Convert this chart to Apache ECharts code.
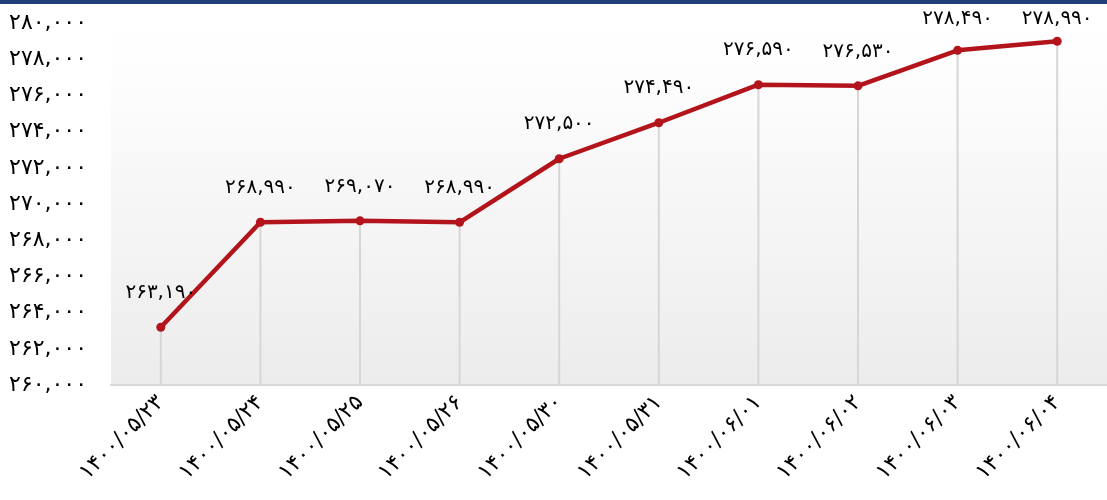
<!DOCTYPE html>
<html>

<head>
    <meta charset="utf-8">
    <script src="https://cdn.jsdelivr.net/npm/echarts@6/dist/echarts.min.js"></script>
    <style>
        html, body, div {
            width: 100%;
            height: 100%;
            margin: 0px;
            background: #fff;
        }
    </style>
</head>

<body>
    <div id="chart"></div>
    <script>
        // dates and prices
        var dates = ['1400/05/23', '1400/05/24', '1400/05/25', '1400/05/26', '1400/05/30',
            '1400/05/31', '1400/06/01', '1400/06/02', '1400/06/03', '1400/06/04'];
        var prices = [263190, 268990, 269070, 268990, 272500, 274490, 276590, 276530, 278490, 278990];
        var yMin = 260000, yMax = 280000, yStep = 2000;

        function toFa(s) {
            return String(s).replace(/[0-9]/g, function (d) {
                return String.fromCharCode(0x06F0 + Number(d));
            });
        }
        function fmt(v) {
            return toFa(Number(v).toLocaleString('en-US'));
        }

        var font = '"DejaVu Sans", sans-serif';
        var myChart = echarts.init(document.getElementById('chart'));
        var option = {
            animation: false,
            graphic: [{
                type: 'rect',
                shape: { x: 0, y: 0, width: 1107, height: 4 },
                style: { fill: '#1f3e78' }
            }],
            grid: {
                left: 111,
                top: 23,
                width: 1000,
                bottom: 115,
                show: true,
                borderWidth: 0,
                backgroundColor: {
                    type: 'linear', x: 0, y: 0, x2: 0, y2: 1,
                    colorStops: [
                        { offset: 0, color: '#ffffff' },
                        { offset: 0.15, color: '#fdfdfd' },
                        { offset: 1, color: '#ececec' }
                    ]
                }
            },
            xAxis: {
                type: 'category',
                data: dates,
                axisLine: { lineStyle: { color: '#d9d9d9', width: 2 } },
                axisTick: { show: false },
                axisLabel: {
                    rotate: 45,
                    margin: 14,
                    color: '#000',
                    fontSize: 22,
                    fontFamily: font,
                    formatter: toFa
                }
            },
            yAxis: {
                type: 'value',
                min: yMin,
                max: yMax,
                interval: yStep,
                splitLine: { show: false },
                axisLine: { show: false },
                axisTick: { show: false },
                axisLabel: {
                    margin: 24,
                    color: '#000',
                    fontSize: 22,
                    fontFamily: font,
                    formatter: fmt
                }
            },
            series: [{
                type: 'bar',
                data: prices,
                barWidth: 2,
                silent: true,
                itemStyle: { color: '#d6d6d6' },
                z: 1
            }, {
                type: 'line',
                data: prices,
                symbol: 'circle',
                symbolSize: 9,
                lineStyle: { color: '#b3141c', width: 4.5 },
                itemStyle: { color: '#b3141c' },
                label: {
                    show: true,
                    position: 'top',
                    distance: 20,
                    color: '#000',
                    fontSize: 20,
                    fontFamily: font,
                    formatter: function (p) { return fmt(p.value); }
                },
                labelLayout: function (p) {
                    var r = p.labelRect;
                    return {
                        x: r.x + r.width / 2,
                        y: Math.max(r.y, 9),
                        align: 'center',
                        verticalAlign: 'top'
                    };
                },
                z: 3
            }]
        };
        myChart.setOption(option);
    </script>
</body>

</html>
